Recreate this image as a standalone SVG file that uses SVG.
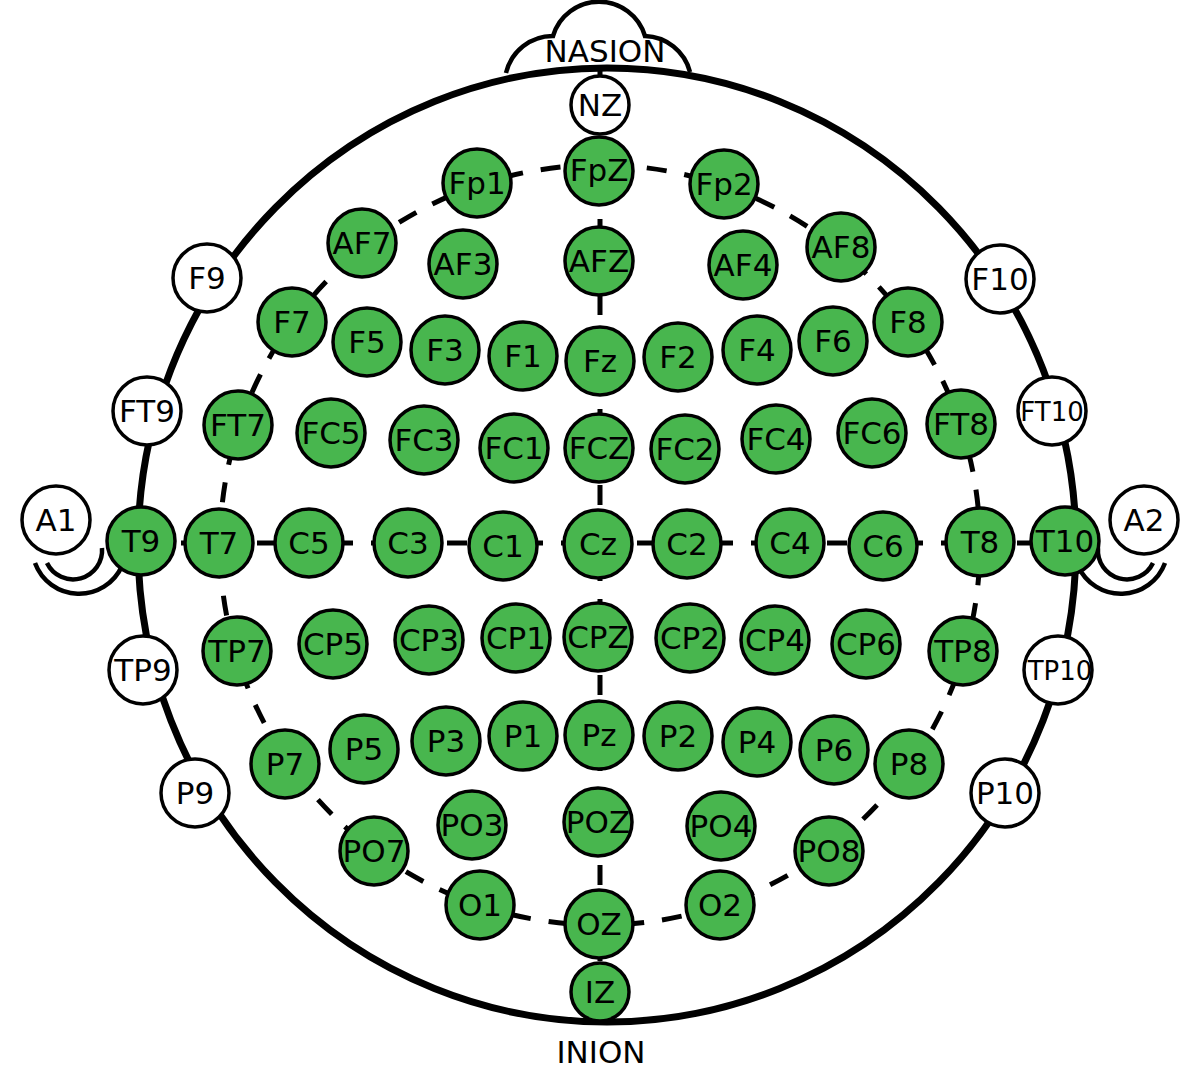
<svg xmlns="http://www.w3.org/2000/svg" width="1200" height="1073" viewBox="0 0 1200 1073">
<style>
.g circle{fill:#48b64e;stroke:#000;stroke-width:3.5}
.w circle{fill:#fff;stroke:#000;stroke-width:3.5}
text{font-family:"DejaVu Sans","Liberation Sans",sans-serif;font-size:31px;text-anchor:middle;fill:#000}
.sm{font-size:26px}
.dash{fill:none;stroke:#000;stroke-width:5;stroke-dasharray:20 18}
.head{fill:none;stroke:#000;stroke-width:7}
.thin{fill:none;stroke:#000;stroke-width:4.5}
</style>
<rect width="1200" height="1073" fill="#fff"/>
<g id="head">
<path class="thin" d="M506,73 A48,48 0 0 1 553,36 A48,48 0 0 1 645,36 A48,48 0 0 1 690,72"/>
<ellipse class="head" cx="607" cy="545" rx="469" ry="477"/>
<path class="thin" d="M47,563 A29,29 0 0 0 102,548"/>
<path class="thin" d="M35,563 A47,47 0 0 0 122,566"/>
<path class="thin" d="M1153,563 A29,29 0 0 1 1098,548"/>
<path class="thin" d="M1165,563 A47,47 0 0 1 1078,566"/>
<text x="605" y="62">NASION</text>
<text x="601" y="1063">INION</text>
</g>
<g id="connectors">
<path class="dash" stroke-dashoffset="29" d="M600,165 A380,380 0 1 1 600,925 A380,380 0 1 1 600,165"/>
<line class="dash" x1="600" y1="67" x2="600" y2="1000"/>
<line class="dash" x1="143" y1="543" x2="1065" y2="543"/>
</g>
<g id="node-NZ" class="w"><circle cx="600" cy="105" r="29"/><text x="600" y="116">NZ</text></g>
<g id="node-F9" class="w"><circle cx="207" cy="278" r="34"/><text x="207" y="289">F9</text></g>
<g id="node-FT9" class="w"><circle cx="147" cy="411" r="34"/><text x="147" y="422">FT9</text></g>
<g id="node-A1" class="w"><circle cx="56" cy="520" r="34"/><text x="56" y="531">A1</text></g>
<g id="node-TP9" class="w"><circle cx="143" cy="670" r="34"/><text x="143" y="681">TP9</text></g>
<g id="node-P9" class="w"><circle cx="195" cy="793" r="34"/><text x="195" y="804">P9</text></g>
<g id="node-F10" class="w"><circle cx="1000" cy="279" r="34"/><text x="1000" y="290">F10</text></g>
<g id="node-FT10" class="w"><circle cx="1052" cy="411" r="34"/><text class="sm" x="1052" y="421">FT10</text></g>
<g id="node-A2" class="w"><circle cx="1144" cy="520" r="34"/><text x="1144" y="531">A2</text></g>
<g id="node-TP10" class="w"><circle cx="1058" cy="670" r="34"/><text class="sm" x="1060" y="680">TP10</text></g>
<g id="node-P10" class="w"><circle cx="1005" cy="793" r="34"/><text x="1005" y="804">P10</text></g>
<g id="node-Fp1" class="g"><circle cx="477" cy="183" r="34"/><text x="477" y="194">Fp1</text></g>
<g id="node-FpZ" class="g"><circle cx="599" cy="171" r="34"/><text x="599" y="181">FpZ</text></g>
<g id="node-Fp2" class="g"><circle cx="724" cy="184" r="34"/><text x="724" y="195">Fp2</text></g>
<g id="node-AF7" class="g"><circle cx="362" cy="243" r="34"/><text x="362" y="254">AF7</text></g>
<g id="node-AF3" class="g"><circle cx="463" cy="264" r="34"/><text x="463" y="275">AF3</text></g>
<g id="node-AFZ" class="g"><circle cx="599" cy="261" r="34"/><text x="599" y="272">AFZ</text></g>
<g id="node-AF4" class="g"><circle cx="743" cy="265" r="34"/><text x="743" y="276">AF4</text></g>
<g id="node-AF8" class="g"><circle cx="841" cy="247" r="34"/><text x="841" y="258">AF8</text></g>
<g id="node-F7" class="g"><circle cx="292" cy="322" r="34"/><text x="292" y="333">F7</text></g>
<g id="node-F5" class="g"><circle cx="367" cy="342" r="34"/><text x="367" y="353">F5</text></g>
<g id="node-F3" class="g"><circle cx="445" cy="350" r="34"/><text x="445" y="361">F3</text></g>
<g id="node-F1" class="g"><circle cx="523" cy="356" r="34"/><text x="523" y="367">F1</text></g>
<g id="node-Fz" class="g"><circle cx="600" cy="361" r="34"/><text x="600" y="372">Fz</text></g>
<g id="node-F2" class="g"><circle cx="678" cy="357" r="34"/><text x="678" y="368">F2</text></g>
<g id="node-F4" class="g"><circle cx="757" cy="350" r="34"/><text x="757" y="361">F4</text></g>
<g id="node-F6" class="g"><circle cx="833" cy="341" r="34"/><text x="833" y="352">F6</text></g>
<g id="node-F8" class="g"><circle cx="908" cy="322" r="34"/><text x="908" y="333">F8</text></g>
<g id="node-FT7" class="g"><circle cx="238" cy="425" r="34"/><text x="238" y="436">FT7</text></g>
<g id="node-FC5" class="g"><circle cx="331" cy="433" r="34"/><text x="331" y="444">FC5</text></g>
<g id="node-FC3" class="g"><circle cx="424" cy="440" r="34"/><text x="424" y="451">FC3</text></g>
<g id="node-FC1" class="g"><circle cx="514" cy="448" r="34"/><text x="514" y="459">FC1</text></g>
<g id="node-FCZ" class="g"><circle cx="599" cy="448" r="34"/><text x="599" y="459">FCZ</text></g>
<g id="node-FC2" class="g"><circle cx="685" cy="449" r="34"/><text x="685" y="460">FC2</text></g>
<g id="node-FC4" class="g"><circle cx="776" cy="439" r="34"/><text x="776" y="450">FC4</text></g>
<g id="node-FC6" class="g"><circle cx="872" cy="433" r="34"/><text x="872" y="444">FC6</text></g>
<g id="node-FT8" class="g"><circle cx="961" cy="424" r="34"/><text x="961" y="435">FT8</text></g>
<g id="node-T9" class="g"><circle cx="141" cy="541" r="34"/><text x="141" y="552">T9</text></g>
<g id="node-T7" class="g"><circle cx="219" cy="543" r="34"/><text x="219" y="554">T7</text></g>
<g id="node-C5" class="g"><circle cx="309" cy="543" r="34"/><text x="309" y="554">C5</text></g>
<g id="node-C3" class="g"><circle cx="408" cy="543" r="34"/><text x="408" y="554">C3</text></g>
<g id="node-C1" class="g"><circle cx="503" cy="546" r="34"/><text x="503" y="557">C1</text></g>
<g id="node-Cz" class="g"><circle cx="598" cy="544" r="34"/><text x="598" y="555">Cz</text></g>
<g id="node-C2" class="g"><circle cx="687" cy="544" r="34"/><text x="687" y="555">C2</text></g>
<g id="node-C4" class="g"><circle cx="790" cy="543" r="34"/><text x="790" y="554">C4</text></g>
<g id="node-C6" class="g"><circle cx="883" cy="546" r="34"/><text x="883" y="557">C6</text></g>
<g id="node-T8" class="g"><circle cx="980" cy="542" r="34"/><text x="980" y="553">T8</text></g>
<g id="node-T10" class="g"><circle cx="1065" cy="541" r="34"/><text x="1065" y="552">T10</text></g>
<g id="node-TP7" class="g"><circle cx="237" cy="651" r="34"/><text x="237" y="662">TP7</text></g>
<g id="node-CP5" class="g"><circle cx="333" cy="644" r="34"/><text x="333" y="655">CP5</text></g>
<g id="node-CP3" class="g"><circle cx="429" cy="640" r="34"/><text x="429" y="651">CP3</text></g>
<g id="node-CP1" class="g"><circle cx="516" cy="638" r="34"/><text x="516" y="649">CP1</text></g>
<g id="node-CPZ" class="g"><circle cx="598" cy="637" r="34"/><text x="598" y="648">CPZ</text></g>
<g id="node-CP2" class="g"><circle cx="690" cy="638" r="34"/><text x="690" y="649">CP2</text></g>
<g id="node-CP4" class="g"><circle cx="775" cy="640" r="34"/><text x="775" y="651">CP4</text></g>
<g id="node-CP6" class="g"><circle cx="866" cy="644" r="34"/><text x="866" y="655">CP6</text></g>
<g id="node-TP8" class="g"><circle cx="963" cy="651" r="34"/><text x="963" y="662">TP8</text></g>
<g id="node-P7" class="g"><circle cx="285" cy="764" r="34"/><text x="285" y="775">P7</text></g>
<g id="node-P5" class="g"><circle cx="364" cy="749" r="34"/><text x="364" y="760">P5</text></g>
<g id="node-P3" class="g"><circle cx="446" cy="741" r="34"/><text x="446" y="752">P3</text></g>
<g id="node-P1" class="g"><circle cx="523" cy="736" r="34"/><text x="523" y="747">P1</text></g>
<g id="node-Pz" class="g"><circle cx="599" cy="735" r="34"/><text x="599" y="746">Pz</text></g>
<g id="node-P2" class="g"><circle cx="678" cy="736" r="34"/><text x="678" y="747">P2</text></g>
<g id="node-P4" class="g"><circle cx="757" cy="742" r="34"/><text x="757" y="753">P4</text></g>
<g id="node-P6" class="g"><circle cx="834" cy="750" r="34"/><text x="834" y="761">P6</text></g>
<g id="node-P8" class="g"><circle cx="909" cy="764" r="34"/><text x="909" y="775">P8</text></g>
<g id="node-PO7" class="g"><circle cx="374" cy="851" r="34"/><text x="374" y="862">PO7</text></g>
<g id="node-PO3" class="g"><circle cx="472" cy="825" r="34"/><text x="472" y="836">PO3</text></g>
<g id="node-POZ" class="g"><circle cx="598" cy="822" r="34"/><text x="598" y="833">POZ</text></g>
<g id="node-PO4" class="g"><circle cx="721" cy="826" r="34"/><text x="721" y="837">PO4</text></g>
<g id="node-PO8" class="g"><circle cx="829" cy="851" r="34"/><text x="829" y="862">PO8</text></g>
<g id="node-O1" class="g"><circle cx="480" cy="905" r="34"/><text x="480" y="916">O1</text></g>
<g id="node-OZ" class="g"><circle cx="599" cy="924" r="34"/><text x="599" y="935">OZ</text></g>
<g id="node-O2" class="g"><circle cx="720" cy="905" r="34"/><text x="720" y="916">O2</text></g>
<g id="node-IZ" class="g"><circle cx="600" cy="992" r="29"/><text x="600" y="1003">IZ</text></g>
</svg>
